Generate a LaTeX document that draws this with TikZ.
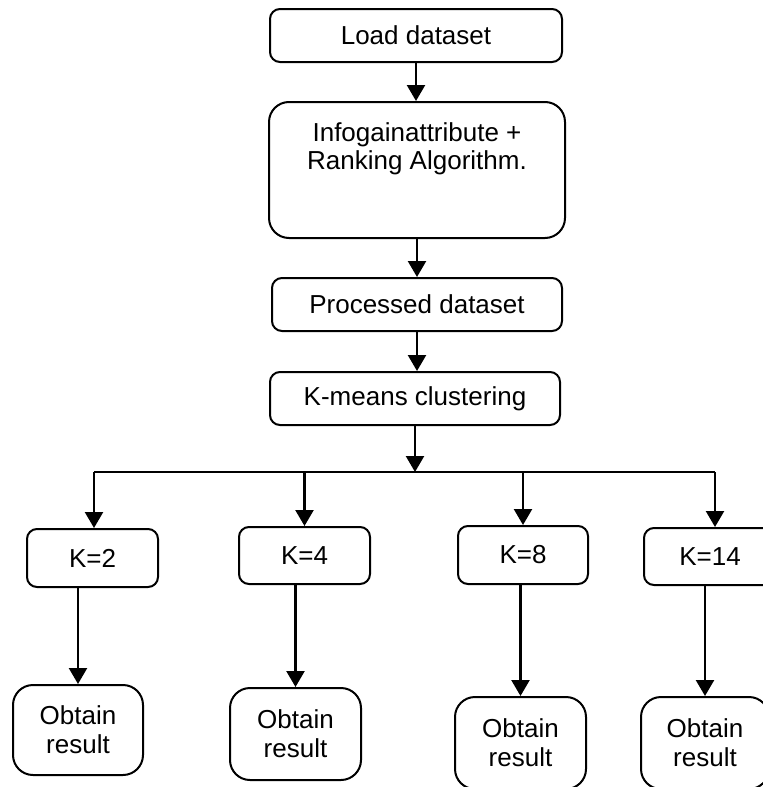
\documentclass[tikz,border=0pt]{standalone}
\usepackage{fontspec}
\setmainfont{Liberation Sans}
\usetikzlibrary{arrows.meta}

\tikzset{
  stepbox/.style={draw, line width=1pt, rounded corners=5pt, inner sep=0pt, align=center,
    font=\fontsize{13}{14.5}\selectfont},
  bigbox/.style={stepbox, rounded corners=10pt},
  arr/.style={line width=1.2pt, -{Triangle[length=8pt,width=9pt]}}
}

\begin{document}
\begin{tikzpicture}[x=0.5pt,y=-0.5pt]
            \useasboundingbox (0,0) rectangle (763,787);
            \clip (0,0) rectangle (763,787);
            \node[stepbox, minimum width=146pt, minimum height=26.5pt] (load) at (416,35.5) {Load dataset};
            \node[bigbox, minimum width=148pt, minimum height=68pt] (info) at (417,170) {};
            \node[align=center, inner sep=0pt, font=\fontsize{13}{14}\selectfont] (infotext) at (417,149) {Infogainattribute +\\Ranking Algorithm.};
            \node[stepbox, minimum width=145pt, minimum height=26.5pt] (proc) at (417,304.5) {Processed dataset};
            \node[stepbox, minimum width=145pt, minimum height=26.5pt] (km) at (415,398.5) {K-means clustering};
            \coordinate (busL) at (94,472);
            \coordinate (busR) at (715,472);
            \node[stepbox, minimum width=65.5pt, minimum height=29pt] (k2) at (92.5,558) {K=2};
            \node[stepbox, minimum width=65.5pt, minimum height=28.5pt] (k4) at (304.5,555.5) {K=4};
            \node[stepbox, minimum width=65pt, minimum height=29pt] (k8) at (523,555) {K=8};
            \node[stepbox, minimum width=66pt, minimum height=28.5pt] (k14) at (710,556.5) {K=14};
            \node[bigbox, minimum width=65pt, minimum height=45pt] (o1) at (78,730) {Obtain\\result};
            \node[bigbox, minimum width=65.5pt, minimum height=46pt] (o2) at (295.5,734) {Obtain\\result};
            \node[bigbox, minimum width=65.5pt, minimum height=46pt] (o3) at (520.5,743) {Obtain\\result};
            \node[bigbox, minimum width=64pt, minimum height=46pt] (o4) at (705,743) {Obtain\\result};
            \draw[arr] (load.south) -- (load.south |- info.north);
            \draw[arr] (info.south) -- (info.south |- proc.north);
            \draw[arr] (proc.south) -- (proc.south |- km.north);
            \draw[arr] (km.south) -- (km.south |- busL);
            \draw[line width=1.2pt] (busL) -- (busR);
            \draw[arr] (busL) -- (busL |- k2.north);
            \draw[arr] (busL -| k4.north) -- (k4.north);
            \draw[arr] (busL -| k8.north) -- (k8.north);
            \draw[arr] (busR) -- (busR |- k14.north);
            \draw[arr] (k2.south -| o1.north) -- (o1.north);
            \draw[arr] (k4.south -| o2.north) -- (o2.north);
            \draw[arr] (k8.south -| o3.north) -- (o3.north);
            \draw[arr] (k14.south -| o4.north) -- (o4.north);
            \end{tikzpicture}
\end{document}
